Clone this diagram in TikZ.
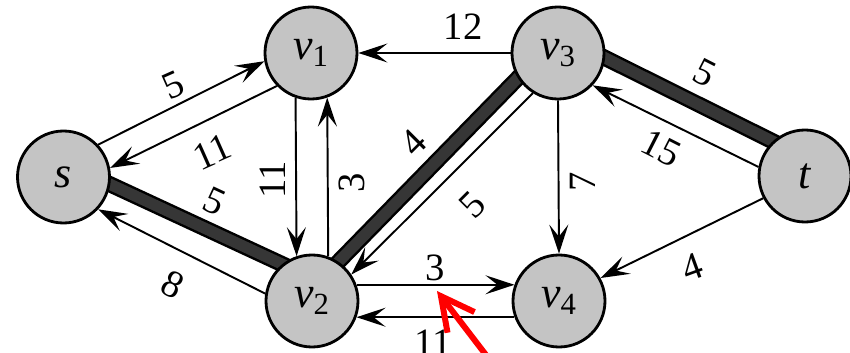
\documentclass[tikz,border=0pt]{standalone}
\usepackage{fontspec}
\setmainfont{Liberation Serif}
\usetikzlibrary{arrows.meta,backgrounds}
\definecolor{rnnode}{HTML}{C4C4C4}
\definecolor{rnband}{HTML}{363636}
\definecolor{rnmark}{HTML}{FF0000}
\newcommand{\vsub}[1]{v\textsubscript{\upshape#1}}
\tikzset{
  vtx/.style={circle,draw=black,line width=1.6pt,fill=rnnode,minimum size=18.4mm,
              inner sep=0pt,font=\fontsize{25}{30}\selectfont\itshape},
  flow/.style={-{Stealth[length=5.8mm,width=3.8mm,inset=2.4mm]},line width=1.1pt},
  augpath/.style={draw=black,line width=1.4pt,double=rnband,double distance=6.4pt,
                  shorten <=-4pt,shorten >=-4pt},
  caplabel/.style={font=\fontsize{22}{26}\selectfont,inner sep=0pt},
  markarrow/.style={-{Straight Barb[length=6.6mm,width=6.8mm]},draw=rnmark,
                    line width=3.4pt,line cap=round,line join=round}
}

\begin{document}
\begin{tikzpicture}[x=1cm,y=1cm]
    \useasboundingbox (0,0) rectangle (17,7.04);

    \node[vtx] (s) at (1.27,3.50) {s};
    \node[vtx] (v1) at (6.22,5.98) {\vsub{1}};
    \node[vtx] (v2) at (6.24,1.02) {\vsub{2}};
    \node[vtx] (v3) at (11.16,5.98) {\vsub{3}};
    \node[vtx] (v4) at (11.18,1.02) {\vsub{4}};
    \node[vtx] (t) at (16.10,3.52) {t};

    % augmenting path s -> v2 -> v3 -> t
    \begin{scope}[on background layer]
      \draw[augpath] (s.-9) -- (v2.129);
      \draw[augpath] (v2.56) -- (v3.212);
      \draw[augpath] (v3.-6) -- (t.133);
    \end{scope}

    \draw[flow] (v3.180) -- (v1.0);
    \draw[flow] (s.43) -- (v1.190);
    \draw[flow] (v1.224) -- (s.11);
    \draw[flow] (v2.171) -- (s.-43);
    \draw[flow] (v1.251) -- (v2.109);
    \draw[flow] (v2.70) -- (v1.290);
    \draw[flow] (v3.238) -- (v2.34);
    \draw[flow] (v2.20) -- (v4.160);
    \draw[flow] (v4.200) -- (v2.-20);
    \draw[flow] (v3.270) -- (v4.90);
    \draw[flow] (t.169) -- (v3.-43);
    \draw[flow] (t.208) -- (v4.29);

    % residual capacities
    \node[caplabel] (c-v3v1) at (9.26,6.50) {12};
    \node[caplabel,rotate=24] (c-sv1) at (3.46,5.34) {5};
    \node[caplabel,rotate=24] (c-v1s) at (4.24,4.00) {11};
    \node[caplabel,rotate=-25] (c-sv2) at (4.30,3.02) {5};
    \node[caplabel,rotate=-27] (c-v2s) at (3.46,1.34) {8};
    \node[caplabel,rotate=90] (c-v1v2) at (5.46,3.44) {11};
    \node[caplabel,rotate=90] (c-v2v1) at (7.04,3.38) {3};
    \node[caplabel,rotate=45] (c-v2v3) at (8.26,4.18) {4};
    \node[caplabel,rotate=45] (c-v3v2) at (9.46,2.94) {5};
    \node[caplabel] (c-v2v4) at (8.70,1.68) {3};
    \node[caplabel] (c-v4v2) at (8.66,0.18) {11};
    \node[caplabel,rotate=90] (c-v3v4) at (11.66,3.40) {7};
    \node[caplabel,rotate=-27] (c-v3t) at (14.10,5.58) {5};
    \node[caplabel,rotate=-27] (c-tv3) at (13.22,4.08) {15};
    \node[caplabel,rotate=20] (c-tv4) at (13.84,1.70) {4};

    \coordinate (markhead) at (8.74,1.22);
    \coordinate (marktail) at (9.72,-0.06);
    \draw[markarrow] (marktail) -- (markhead);
\end{tikzpicture}
\end{document}
